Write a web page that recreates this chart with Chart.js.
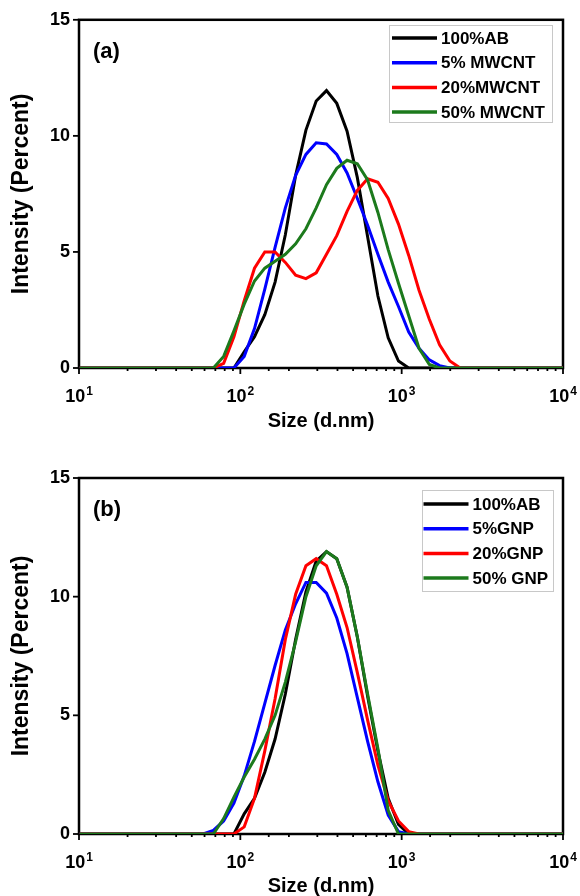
<!DOCTYPE html>
<html>
<head>
<meta charset="utf-8">
<script src="https://cdn.jsdelivr.net/npm/chart.js@4/dist/chart.umd.min.js"></script>
<style>
  html, body { margin: 0; padding: 0; background: #fff; }
  canvas { display: block; }
</style>
</head>
<body>
<canvas id="grafikA" width="580" height="448"></canvas>
<canvas id="grafikB" width="580" height="448"></canvas>
<script>
// Ukuran partikel (d.nm), bin DLS
const ukuran = [10.1, 11.7, 13.54, 15.69, 18.17, 21.04, 24.36, 28.21, 32.67, 37.84, 43.82, 50.75,
    58.77, 68.06, 78.82, 91.28, 105.7, 122.4, 141.8, 164.2, 190.1, 220.2, 255.0, 295.3, 342.0, 396.1,
    458.7, 531.2, 615.1, 712.4, 825.0, 955.4, 1106, 1281, 1484, 1718, 1990, 2305,
    2669, 3091, 3580, 4145, 4801, 5560, 6439, 7456, 8635, 10000];

const nol12 = [0, 0, 0, 0, 0, 0, 0, 0, 0, 0, 0, 0];
const nol10 = [0, 0, 0, 0, 0, 0, 0, 0, 0, 0];

// (a) campuran MWCNT - intensitas (%)
const labelA = ["100%AB", "5% MWCNT", "20%MWCNT", "50% MWCNT"];
const abA = [...nol12, 0, 0, 0, 0, 0.7, 1.35, 2.3, 3.7, 5.74, 8.3, 10.25, 11.5, 11.95, 11.4,
    10.2, 8.2, 5.65, 3.1, 1.3, 0.3, 0, 0, 0, 0, 0, 0, ...nol10];
const mwcnt5 = [...nol12, 0, 0, 0, 0, 0.5, 1.7, 3.4, 5.2, 6.9, 8.3, 9.2, 9.7, 9.65, 9.2,
    8.4, 7.3, 6.15, 4.9, 3.7, 2.65, 1.55, 0.85, 0.35, 0.1, 0, 0, ...nol10];
const mwcnt20 = [...nol12, 0, 0, 0.2, 1.35, 2.9, 4.3, 5.0, 5.0, 4.55, 4.0, 3.85, 4.1, 4.9, 5.7,
    6.75, 7.65, 8.15, 8.0, 7.3, 6.2, 4.85, 3.35, 2.1, 1.0, 0.3, 0, ...nol10];
const mwcnt50 = [...nol12, 0, 0, 0.5, 1.6, 2.75, 3.75, 4.3, 4.6, 4.9, 5.35, 6.0, 6.9, 7.9, 8.6,
    8.95, 8.8, 8.1, 6.7, 5.1, 3.65, 2.25, 0.85, 0.15, 0, 0, 0, ...nol10];

// (b) campuran GNP - intensitas (%)
const labelB = ["100%AB", "5%GNP", "20%GNP", "50% GNP"];
const abB = [...nol12, 0, 0, 0, 0, 0.85, 1.5, 2.6, 4.0, 5.9, 8.2, 10.2, 11.5, 11.9, 11.6,
    10.4, 8.3, 5.8, 3.5, 1.5, 0.4, 0, 0, 0, 0, 0, 0, ...nol10];
const gnp5 = [...nol12, 0, 0.15, 0.55, 1.3, 2.45, 3.9, 5.5, 7.1, 8.6, 9.7, 10.6, 10.6, 10.15, 9.1,
    7.6, 5.75, 3.9, 2.2, 0.8, 0.1, 0, 0, 0, 0, 0, 0, ...nol10];
const gnp20 = [...nol12, 0, 0, 0, 0, 0.3, 1.5, 3.5, 5.7, 8.2, 10.1, 11.3, 11.6, 11.3, 10.1,
    8.7, 6.8, 4.8, 2.9, 1.4, 0.55, 0.1, 0, 0, 0, 0, 0, ...nol10];
const gnp50 = [...nol12, 0, 0, 0.65, 1.55, 2.4, 3.15, 4.0, 5.0, 6.4, 8.1, 10.0, 11.3, 11.9, 11.6,
    10.4, 8.3, 5.9, 3.6, 1.0, 0, 0, 0, 0, 0, 0, 0, ...nol10];

const tickY = [0, 5, 10, 15];
const warna = ["#000000", "#0000ff", "#ff0000", "#1c7a1c"];
const FONT = "'Liberation Sans', Arial, sans-serif";

function buatDataset(labels, seri) {
    return seri.map((nilai, i) => ({
        label: labels[i],
        data: ukuran.map((u, k) => ({ x: u, y: nilai[k] })),
        borderColor: warna[i],
        borderWidth: 3,
        pointRadius: 0,
        tension: 0,
        fill: false,
        order: seri.length - i   // hijau paling atas
    }));
}

// Bingkai, tick, label 10^n, legenda dan label panel
const bingkai = {
    id: "bingkai",
    beforeDatasetsDraw(chart) {
        const { ctx, chartArea: a, scales: { x, y } } = chart;
        ctx.save();
        ctx.strokeStyle = "#000";
        ctx.lineWidth = 2.5;
        ctx.strokeRect(a.left, a.top, a.right - a.left, a.bottom - a.top);

        ctx.lineWidth = 1.8;
        x.ticks.forEach(t => {
            const px = x.getPixelForValue(t.value);
            const lg = Math.log10(t.value);
            const major = Math.abs(lg - Math.round(lg)) < 1e-6;
            ctx.beginPath();
            ctx.moveTo(px, a.bottom);
            ctx.lineTo(px, a.bottom + (major ? 6 : 3));
            ctx.stroke();
        });
        y.ticks.forEach(t => {
            const py = y.getPixelForValue(t.value);
            ctx.beginPath();
            ctx.moveTo(a.left, py);
            ctx.lineTo(a.left - 6, py);
            ctx.stroke();
        });

        // label sumbu x: 10 pangkat n
        ctx.fillStyle = "#000";
        ctx.textBaseline = "alphabetic";
        x.ticks.forEach(t => {
            const lg = Math.log10(t.value);
            if (Math.abs(lg - Math.round(lg)) > 1e-6) return;
            const px = x.getPixelForValue(t.value);
            const pangkat = String(Math.round(lg));
            ctx.font = "bold 18px " + FONT;
            const w1 = ctx.measureText("10").width;
            ctx.font = "bold 12px " + FONT;
            const w2 = ctx.measureText(pangkat).width;
            const x0 = px - (w1 + w2 + 1) / 2;
            const base = a.bottom + 34;
            ctx.font = "bold 18px " + FONT;
            ctx.textAlign = "left";
            ctx.fillText("10", x0, base);
            ctx.font = "bold 12px " + FONT;
            ctx.fillText(pangkat, x0 + w1 + 1, base - 7);
        });
        ctx.restore();
    },
    afterDraw(chart, args, opts) {
        const { ctx } = chart;
        const lg = opts.legenda;
        ctx.save();
        ctx.fillStyle = "#fff";
        ctx.fillRect(lg.left, lg.top, lg.width, lg.height);
        ctx.strokeStyle = "#c8c8c8";
        ctx.lineWidth = 1;
        ctx.strokeRect(lg.left + 0.5, lg.top + 0.5, lg.width, lg.height);
        ctx.font = "bold 17px " + FONT;
        ctx.textBaseline = "middle";
        ctx.textAlign = "left";
        chart.data.datasets.forEach((ds, i) => {
            const yy = lg.top + lg.baris0 + i * lg.jarak;
            ctx.strokeStyle = ds.borderColor;
            ctx.lineWidth = 3.5;
            ctx.beginPath();
            ctx.moveTo(lg.left + lg.garisX, yy);
            ctx.lineTo(lg.left + lg.garisX + 45, yy);
            ctx.stroke();
            ctx.fillStyle = "#000";
            ctx.fillText(ds.label, lg.left + lg.garisX + 49, yy + 1);
        });
        ctx.font = "bold 22px " + FONT;
        ctx.fillText(opts.panel, chart.chartArea.left + 14, chart.chartArea.top + 32);
        ctx.restore();
    }
};

function buatGrafik(id, labels, seri, panel, padAtas, tinggiX, padJudulX, legenda) {
    const ctx = document.getElementById(id).getContext("2d");
    return new Chart(ctx, {
        type: "line",
        data: { datasets: buatDataset(labels, seri) },
        options: {
            responsive: false,
            animation: false,
            layout: { padding: { top: padAtas, right: 17, bottom: 0, left: 0 } },
            plugins: {
                legend: { display: false },
                tooltip: { enabled: false },
                bingkai: { panel: panel, legenda: legenda }
            },
            scales: {
                x: {
                    type: "logarithmic",
                    min: 10,
                    max: 10000,
                    grid: { display: false, drawTicks: false },
                    border: { display: false },
                    ticks: { display: false },
                    afterFit: s => { s.height = tinggiX; },
                    title: {
                        display: true,
                        text: "Size (d.nm)",
                        color: "#000",
                        font: { family: FONT, size: 20, weight: "bold", lineHeight: 1 },
                        padding: { top: 0, bottom: padJudulX }
                    }
                },
                y: {
                    min: 0,
                    max: 15,
                    afterBuildTicks: s => { s.ticks = tickY.map(v => ({ value: v })); },
                    grid: { display: false, drawTicks: false },
                    border: { display: false },
                    ticks: {
                        color: "#000",
                        padding: 9,
                        font: { family: FONT, size: 18, weight: "bold" }
                    },
                    afterFit: s => { s.width = 79; },
                    title: {
                        display: true,
                        text: "Intensity (Percent)",
                        color: "#000",
                        font: { family: FONT, size: 23, weight: "bold", lineHeight: 1 },
                        padding: { top: 10, bottom: 0 }
                    }
                }
            }
        },
        plugins: [bingkai]
    });
}

buatGrafik("grafikA", labelA, [abA, mwcnt5, mwcnt20, mwcnt50], "(a)", 12, 80, 17,
    { left: 389, top: 25, width: 163, height: 97, garisX: 3, baris0: 13, jarak: 24.7 });
buatGrafik("grafikB", labelB, [abB, gnp5, gnp20, gnp50], "(b)", 30, 62, 0,
    { left: 422, top: 42, width: 131, height: 101, garisX: 1.5, baris0: 14, jarak: 24.7 });
</script>
</body>
</html>
